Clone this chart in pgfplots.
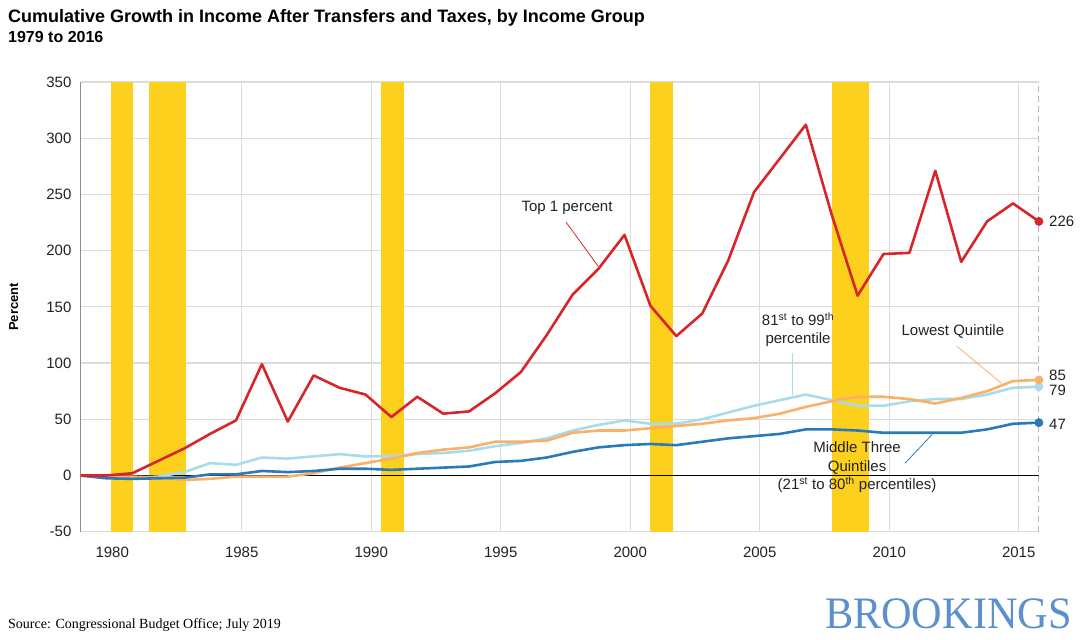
\documentclass[border=0pt]{standalone}
\usepackage{fontspec}
\setmainfont{Liberation Sans}
\newfontfamily\titlefont{Liberation Sans}
\newfontfamily\seriffont{Liberation Serif}
\newfontfamily\brookfont[FakeStretch=0.94]{Liberation Serif}
\usepackage{pgfplots}
\pgfplotsset{compat=1.18}
\definecolor{topred}{HTML}{D7252A}
\definecolor{ltblue}{HTML}{A8DCEC}
\definecolor{dkblue}{HTML}{2A7AB9}
\definecolor{lowor}{HTML}{FBB069}
\definecolor{recess}{HTML}{FCD01C}
\definecolor{gridgray}{HTML}{DCDCDC}
\definecolor{axisgray}{HTML}{8C8C8C}
\definecolor{textgray}{HTML}{222222}
\definecolor{brook}{HTML}{5B8FCD}

\pgfplotstableread{
year top high low mid
1979 0 0 0 0
1980 0 -2 -1 -2.5
1981 2 -2 -1 -3
1982 13 -1 -2 -2.5
1983 24 3 -4 -2
1984 37 11 -3 1
1985 49 9.5 -1 1
1986 99 16 -1 4
1987 48 15 -1 3
1988 89 17 2 4
1989 78 19 7 6
1990 72 17 11 6
1991 52 17 15 5
1992 70 19 20 6
1993 55 20 23 7
1994 57 22 25 8
1995 73 26 30 12
1996 92 29 30 13
1997 125 33 31 16
1998 161 40 38 21
1999 184 45 40 25
2000 214 49 40 27
2001 151 46 42 28
2002 124 46 44 27
2003 144 50 46 30
2004 191 56 49 33
2005 252 62 51 35
2006 282 67 55 37
2007 312 72 61 41
2008 232 67 66 41
2009 160 62 70 40
2010 197 62 70 38
2011 198 66 68 38
2012 271 68 64 38
2013 190 68 69 38
2014 226 72 75 41
2015 242 78 84 46
2016 226 79 85 47
}\datatable

\begin{document}
\begin{tikzpicture}
\path[use as bounding box] (0pt,0pt) rectangle (1080pt,640pt);
\begin{axis}[
  at={(80.6pt,108.3pt)}, anchor=south west,
  scale only axis, width=958.3pt, height=449.7pt,
  xmin=1979, xmax=2016, ymin=-50, ymax=350,
  xtick={1980.22,1985.22,1990.22,1995.22,2000.22,2005.22,2010.22,2015.22},
  xticklabels={1980,1985,1990,1995,2000,2005,2010,2015},
  ytick={-50,0,50,100,150,200,250,300,350},
  xmajorgrids, ymajorgrids,
  grid style={color=gridgray, line width=1.3pt},
  major tick length=0pt,
  axis lines=left,
  axis line style={-},
  x axis line style={draw=gridgray, line width=1.3pt},
  y axis line style={draw=axisgray, line width=1pt},
  ticklabel style={font=\fontsize{15}{18}\selectfont, text=textgray},
  yticklabel style={anchor=east, inner sep=0pt, xshift=-9pt},
  xticklabel style={anchor=north, inner sep=0pt, yshift=-15pt},
  /pgf/number format/assume math mode=true,
  clip=false,
]
% recession bands
\addplot[draw=none, fill=recess, forget plot] coordinates {(1980.16,-50) (1981.03,-50) (1981.03,350) (1980.16,350)} -- cycle;
\addplot[draw=none, fill=recess, forget plot] coordinates {(1981.64,-50) (1983.06,-50) (1983.06,350) (1981.64,350)} -- cycle;
\addplot[draw=none, fill=recess, forget plot] coordinates {(1990.59,-50) (1991.49,-50) (1991.49,350) (1990.59,350)} -- cycle;
\addplot[draw=none, fill=recess, forget plot] coordinates {(2000.98,-50) (2001.89,-50) (2001.89,350) (2000.98,350)} -- cycle;
\addplot[draw=none, fill=recess, forget plot] coordinates {(2008.01,-50) (2009.44,-50) (2009.44,350) (2008.01,350)} -- cycle;

\draw[black, line width=1pt] (axis cs:1979,0) -- (axis cs:2016,0);
\draw[color=gray!55, line width=1pt, dash pattern=on 6pt off 4pt] (axis cs:2016,-50) -- (axis cs:2016,350);

\addplot[ltblue, line width=2.6pt, line join=round] table[x=year, y=high] {\datatable};
\addplot[lowor, line width=2.6pt, line join=round] table[x=year, y=low] {\datatable};
\addplot[dkblue, line width=2.6pt, line join=round] table[x=year, y=mid] {\datatable};
\addplot[topred, line width=2.6pt, line join=round] table[x=year, y=top] {\datatable};

\addplot[only marks, mark=*, mark size=4.2pt, ltblue] coordinates {(2016,79)};
\addplot[only marks, mark=*, mark size=4.2pt, lowor] coordinates {(2016,85)};
\addplot[only marks, mark=*, mark size=4.2pt, dkblue] coordinates {(2016,47)};
\addplot[only marks, mark=*, mark size=4.2pt, topred] coordinates {(2016,226)};

% end labels
\node[anchor=west, inner sep=0pt, text=textgray, font=\fontsize{15}{18}\selectfont] at (axis cs:2016.39,226) {226};
\node[anchor=west, inner sep=0pt, text=textgray, font=\fontsize{15}{18}\selectfont] at (axis cs:2016.39,89.5) {85};
\node[anchor=west, inner sep=0pt, text=textgray, font=\fontsize{15}{18}\selectfont] at (axis cs:2016.39,75.3) {79};
\node[anchor=west, inner sep=0pt, text=textgray, font=\fontsize{15}{18}\selectfont] at (axis cs:2016.39,45.6) {47};

% annotations
\node[inner sep=0pt, text=textgray, font=\fontsize{15}{18}\selectfont] at (axis cs:1997.78,237.8) {Top 1 percent};
\draw[topred, line width=0.8pt] (axis cs:1997.74,225.4) -- (axis cs:1998.98,186.2);

\node[inner sep=0pt, align=center, text=textgray, font=\fontsize{15}{18}\selectfont] at (axis cs:2006.7,129.3) {81\textsuperscript{st} to 99\textsuperscript{th}\\percentile};
\draw[ltblue, line width=0.8pt] (axis cs:2006.47,108.8) -- (axis cs:2006.47,71.4);

\node[inner sep=0pt, text=textgray, font=\fontsize{15}{18}\selectfont] at (axis cs:2012.68,128.5) {Lowest Quintile};
\draw[lowor, line width=0.8pt] (axis cs:2012.83,115.0) -- (axis cs:2014.56,81.9);

\node[inner sep=0pt, align=center, text=textgray, font=\fontsize{15}{18.5}\selectfont] at (axis cs:2008.98,7.4) {Middle Three\\Quintiles\\(21\textsuperscript{st} to 80\textsuperscript{th} percentiles)};
\draw[dkblue, line width=0.8pt] (axis cs:2010.83,10.9) -- (axis cs:2011.88,36.5);
\end{axis}

\node[anchor=base west, inner sep=0pt, text=black] at (8pt,617.3pt) {\titlefont\bfseries\fontsize{18}{20}\selectfont Cumulative Growth in Income After Transfers and Taxes, by Income Group};
\node[anchor=base west, inner sep=0pt, text=black] at (8pt,597.3pt) {\titlefont\bfseries\fontsize{16}{18}\selectfont 1979 to 2016};
\node[rotate=90, inner sep=0pt, text=black] at (13.8pt,333pt) {\bfseries\fontsize{13}{15}\selectfont Percent};
\node[anchor=base west, inner sep=0pt, text=black] at (8pt,11.5pt) {\seriffont\fontsize{14}{16}\selectfont Source: Congressional Budget Office; July 2019};
\node[anchor=base east, inner sep=0pt, text=brook] at (1072pt,11.7pt) {\brookfont\fontsize{45}{50}\selectfont BROOKINGS};
\end{tikzpicture}
\end{document}
